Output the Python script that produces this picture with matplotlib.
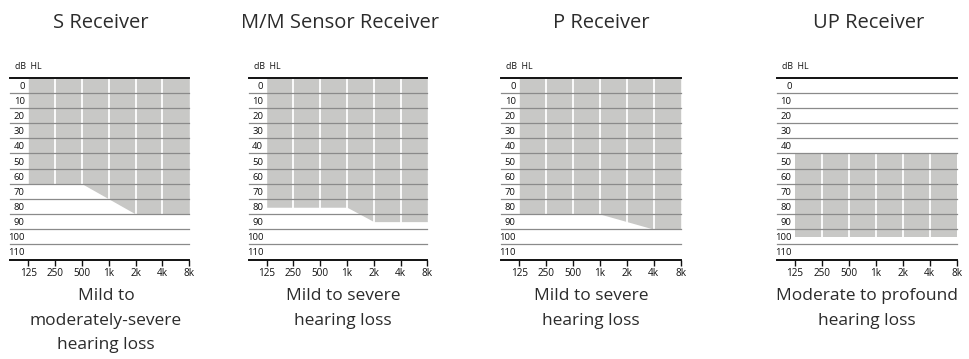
import matplotlib
matplotlib.use("Agg")
import matplotlib.pyplot as plt
from matplotlib.transforms import offset_copy

plt.rcParams['font.family'] = ['Open Sans', 'DejaVu Sans']

freqs = [125, 250, 500, 1000, 2000, 4000, 8000]
freq_labels = ["125", "250", "500", "1k", "2k", "4k", "8k"]
db_labels = [0, 10, 20, 30, 40, 50, 60, 70, 80, 90, 100, 110]

titles = ["S Receiver", "M/M Sensor Receiver", "P Receiver", "UP Receiver"]
captions = ["Mild to\nmoderately-severe\nhearing loss",
            "Mild to severe\nhearing loss",
            "Mild to severe\nhearing loss",
            "Moderate to profound\nhearing loss"]

# fitting range: upper and lower bound (dB HL) per frequency
s_top = [-5, -5, -5, -5, -5, -5, -5]
s_bottom = [65, 65, 65, 75, 85, 85, 85]
mm_top = [-5, -5, -5, -5, -5, -5, -5]
mm_bottom = [80.5, 80.5, 80.5, 80.5, 90, 90, 90]
p_top = [-5, -5, -5, -5, -5, -5, -5]
p_bottom = [85, 85, 85, 85, 90, 95, 95]
up_top = [45, 45, 45, 45, 45, 45, 45]
up_bottom = [100, 100, 100, 100, 100, 100, 100]
ranges = [(s_top, s_bottom), (mm_top, mm_bottom), (p_top, p_bottom), (up_top, up_bottom)]

W, H = 969, 359
fig = plt.figure(figsize=(W / 100, H / 100), dpi=100)

# pixel geometry of plot areas
lefts = [28.3, 266.7, 519.3, 795.0]
widths = [161.0, 160.6, 161.4, 161.7]
top_px, bot_px = 77.7, 259.5
title_x = [100.6, 340, 601, 869]
caption_x = [106, 343, 591, 867]

shade = "#c8c8c6"
grid_gray = "#8a8a8a"
text_col = "#2b2b2b"

for i in range(4):
    l = lefts[i] / W
    w = widths[i] / W
    b = 1 - bot_px / H
    h = (bot_px - top_px) / H
    ax = fig.add_axes([l, b, w, h])
    ax.set_xscale('log', base=2)
    ax.set_xlim(125, 8000)
    ax.set_ylim(115, -5)
    for s in ax.spines.values():
        s.set_visible(False)
    top, bottom = ranges[i]
    ax.fill_between(freqs, top, bottom, color=shade, lw=0, zorder=1)
    for f in freqs[1:-1]:
        ax.axvline(f, color="white", lw=1.3, zorder=2)
    ext = -18 / widths[i]
    tr = ax.get_yaxis_transform()
    for yv in range(-5, 116, 10):
        if yv in (-5, 115):
            ax.plot([ext, 1], [yv, yv], transform=tr, color="#111111", lw=1.4,
                    clip_on=False, zorder=4)
        else:
            ax.plot([ext, 1], [yv, yv], transform=tr, color=grid_gray, lw=0.9,
                    clip_on=False, zorder=3)
    ax.set_yticks(db_labels)
    ax.set_yticklabels([str(d) for d in db_labels], fontsize=6.8, color="#111111")
    ax.tick_params(axis='y', length=0, pad=2.5)
    ax.set_xticks(freqs)
    ax.set_xticklabels(freq_labels, fontsize=7.2, color="#111111")
    ax.minorticks_off()
    ax.tick_params(axis='x', length=4, width=1, color="#111111", pad=2, direction='out')
    t_off = offset_copy(ax.transAxes, fig=fig, x=0, y=5, units='points')
    ax.text(-13 / widths[i], 1.0, "dB  HL", transform=t_off, fontsize=6.3,
            color="#111111", ha='left', va='bottom')
    fig.text(title_x[i] / W, 1 - 23.5 / H, titles[i], ha='center', va='center',
             fontsize=14.5, color=text_col)
    fig.text(caption_x[i] / W, 1 - 288.5 / H, captions[i], ha='center', va='top',
             fontsize=12.5, color=text_col, linespacing=1.68)

fig.savefig("out.png", dpi=100, facecolor="white")
